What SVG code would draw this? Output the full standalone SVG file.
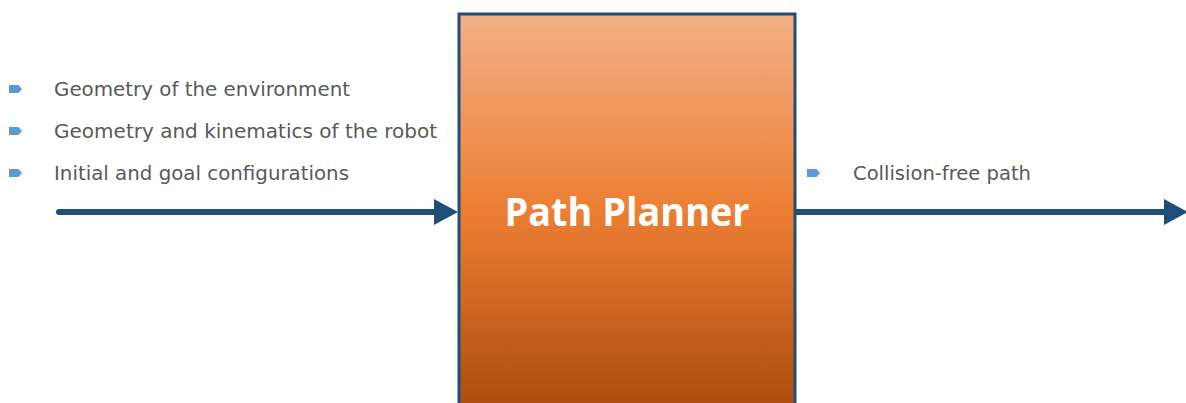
<svg xmlns="http://www.w3.org/2000/svg" width="1186" height="403" viewBox="0 0 1186 403">
<style>
.t{font-family:"DejaVu Sans","Liberation Sans",sans-serif;font-size:19px;fill:#595959}
.b{fill:#5B9BD5}
.ln{stroke:#1F4E79;stroke-width:6;fill:none}
.ah{fill:#1F4E79}
</style>
<defs>
<linearGradient id="g" x1="0" y1="0" x2="0" y2="1">
<stop offset="0" stop-color="#F3B086"/>
<stop offset="0.5" stop-color="#EC7E33"/>
<stop offset="1" stop-color="#AE4B0E"/>
</linearGradient>
<path id="bul" d="M0,-4 H9.5 L13,0 L9.5,4 H0 Z"/>
</defs>
<g id="planner">
<rect x="459" y="14" width="336" height="395" fill="url(#g)" stroke="#1F4E79" stroke-width="3"/>
<text x="627" y="226" text-anchor="middle" font-family="'Open Sans','DejaVu Sans',sans-serif" font-weight="bold" font-size="39" fill="#FFFFFF" textLength="245" lengthAdjust="spacingAndGlyphs">Path Planner</text>
</g>
<g id="inputs">
<use href="#bul" class="b" x="9" y="89"/>
<text class="t" x="54" y="96" textLength="296" lengthAdjust="spacingAndGlyphs">Geometry of the environment</text>
<use href="#bul" class="b" x="9" y="131"/>
<text class="t" x="54" y="138" textLength="383" lengthAdjust="spacingAndGlyphs">Geometry and kinematics of the robot</text>
<use href="#bul" class="b" x="9" y="173"/>
<text class="t" x="54" y="180" textLength="295" lengthAdjust="spacingAndGlyphs">Initial and goal configurations</text>
</g>
<g id="output">
<use href="#bul" class="b" x="807" y="173"/>
<text class="t" x="853" y="180" textLength="178" lengthAdjust="spacingAndGlyphs">Collision-free path</text>
</g>
<g id="connectors">
<line class="ln" x1="59" y1="212" x2="438" y2="212" stroke-linecap="round"/>
<path class="ah" d="M434,199 L458,212 L434,225 Z"/>
<line class="ln" x1="796" y1="212" x2="1168" y2="212"/>
<path class="ah" d="M1164,199 L1188,212 L1164,225 Z"/>
</g>
</svg>
